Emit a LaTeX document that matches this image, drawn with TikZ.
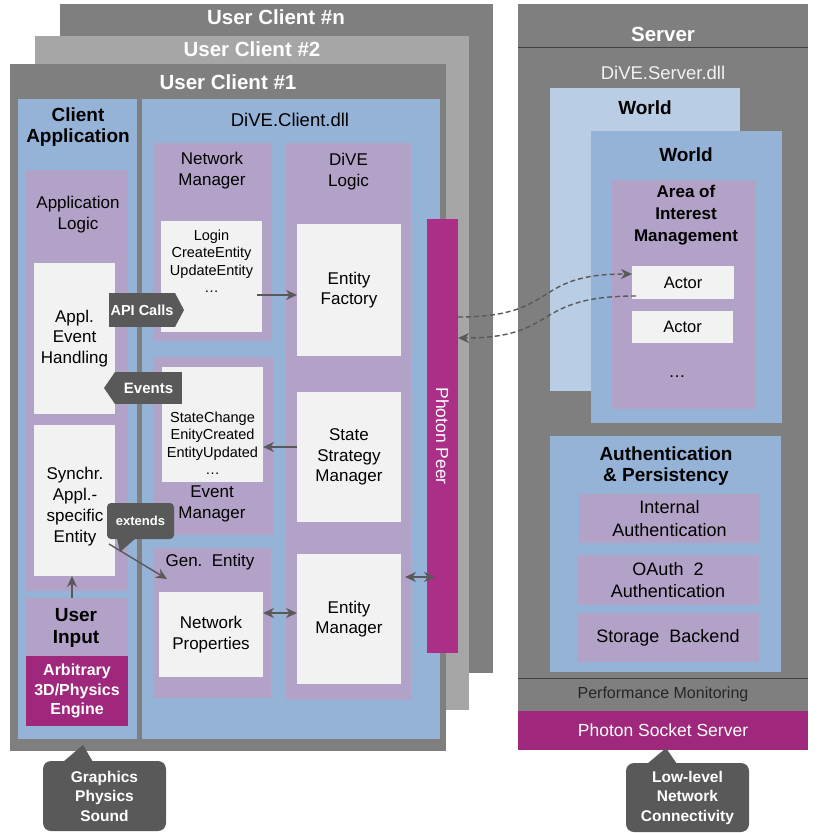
\documentclass[tikz,border=0pt]{standalone}
\usepackage{fontspec}
\setmainfont{Liberation Sans}
\usetikzlibrary{arrows.meta}

\definecolor{grayd}{HTML}{7F7F7F}
\definecolor{grayl}{HTML}{A6A6A6}
\definecolor{blueb}{HTML}{95B3D7}
\definecolor{bluel}{HTML}{B9CDE5}
\definecolor{purp}{HTML}{B3A2C7}
\definecolor{boxwhite}{HTML}{F2F2F2}
\definecolor{peercol}{HTML}{AB2F87}
\definecolor{magd}{HTML}{A0287C}
\definecolor{bubblegray}{HTML}{595959}

\tikzset{
  leaf/.style={fill=boxwhite, inner sep=0pt, outer sep=0pt, align=center, font=\fontsize{17}{20.5}\selectfont},
  pbox/.style={fill=purp, inner sep=0pt, outer sep=0pt, align=center, font=\fontsize{18}{22.5}\selectfont},
  lbl/.style={align=center, font=\fontsize{17}{21}\selectfont},
  blbl/.style={align=center, font=\bfseries\fontsize{19}{21.5}\selectfont},
  title/.style={text=white, font=\bfseries\fontsize{20.5}{24}\selectfont},
  list/.style={align=center, font=\fontsize{14.5}{17.5}\selectfont},
  bubble/.style={fill=bubblegray, text=white, align=center, inner sep=0pt, outer sep=0pt, font=\bfseries\fontsize{15.5}{19.5}\selectfont},
  conn/.style={draw=bubblegray, line width=1.4pt, ->},
  dconn/.style={conn, dash pattern=on 5pt off 3pt},
  >={Stealth[length=11pt,width=10pt,inset=3.5pt]}
}

\begin{document}
\begin{tikzpicture}[x=1pt,y=-1pt]
\useasboundingbox (0,0) rectangle (819,833);

% stacked clients
\fill[grayd] (60,4) rectangle (493,673);
\node[title] (cltn) at (276,17) {User Client \#n};
\fill[grayl] (35,36) rectangle (469,710);
\node[title] (clt2) at (252,49) {User Client \#2};
\fill[grayd] (10,64) rectangle (446,751);
\node[title] (clt1) at (228,82) {User Client \#1};

% client application
\fill[blueb] (18,99) rectangle (137,739);
\node[blbl] (capp) at (78,127) {Client\\Application};
\fill[purp] (26,170) rectangle (128,591);
\node[lbl] (alogic) at (78,215) {Application\\Logic};
\node[leaf, minimum width=81, minimum height=151] (handling) at (74.5,338.5) {Appl.\\Event\\Handling};
\node[leaf, minimum width=81, minimum height=151] (synchr) at (74.5,500.5) {};
\node[lbl] (synchrtxt) at (75,507) {Synchr.\\Appl.-\\specific\\Entity};
\fill[purp] (26,598) rectangle (128,656);
\node[blbl] (uinput) at (76,628) {User\\Input};
\node[fill=magd, minimum width=102, minimum height=70, inner sep=0pt, outer sep=0pt, text=white, align=center,
  font=\bfseries\fontsize{16}{19.5}\selectfont] (engine) at (77,691) {Arbitrary\\3D/Physics\\Engine};

% DiVE.Client.dll
\fill[blueb] (142,99) rectangle (440,739);
\node[lbl, font=\fontsize{18.5}{22}\selectfont] (cdll) at (290,120) {DiVE.Client.dll};

% network manager
\fill[purp] (153,143) rectangle (272,341);
\node[lbl] (netmgr) at (212,171) {Network\\Manager};
\node[leaf, minimum width=101, minimum height=111] (calls) at (211.5,276.5) {};
\node[list] (callstxt) at (211.5,261) {Login\\CreateEntity\\UpdateEntity\\\dots};

% event manager
\fill[purp] (153,357) rectangle (273,535);
\node[leaf, minimum width=101, minimum height=115] (events) at (212.5,424.5) {};
\node[list] (eventstxt) at (212.5,443) {StateChange\\EnityCreated\\EntityUpdated\\\dots};
\node[lbl] (evmgr) at (212,504) {Event\\Manager};

% generic entity
\fill[purp] (153,548) rectangle (271,698);
\node[lbl] (genent) at (210,562) {Gen.~~Entity};
\node[leaf, minimum width=104, minimum height=85] (netprops) at (211,634.5) {Network\\Properties};

% DiVE logic
\fill[purp] (286,143) rectangle (411,700);
\node[lbl] (logic) at (348.5,172) {DiVE\\Logic};
\node[leaf, minimum width=104, minimum height=132] (factory) at (349,290) {Entity\\Factory};
\node[leaf, minimum width=104, minimum height=130] (strategy) at (349,457) {State\\Strategy\\Manager};
\node[leaf, minimum width=104, minimum height=130] (entmgr) at (349,619) {Entity\\Manager};

% photon peer
\node[fill=peercol, minimum width=31, minimum height=434, inner sep=0pt, outer sep=0pt] (peer) at (442.5,436) {};
\node[rotate=-90, text=white, font=\fontsize{17.5}{20}\selectfont] (peertxt) at (442.5,436) {Photon Peer};

% server
\fill[grayd] (518,4) rectangle (808,711);
\node[title] (srv) at (663,34) {Server};
\draw[black!75, line width=1pt] (518,47) -- (808,47);
\node[lbl, text=boxwhite, font=\fontsize{18.5}{22}\selectfont] (sdll) at (663,73) {DiVE.Server.dll};
\fill[bluel] (550,88) rectangle (740,391);
\node[blbl] (world1) at (645,108) {World};
\fill[blueb] (591,131) rectangle (782,423);
\node[blbl] (world2) at (686,155) {World};
\fill[purp] (612,180) rectangle (756,409);
\node[blbl, font=\bfseries\fontsize{17}{22}\selectfont] (aoi) at (686,215) {Area of\\Interest\\Management};
\node[leaf, font=\fontsize{16.5}{20}\selectfont, minimum width=102, minimum height=33] (actor1) at (683,282.5) {Actor};
\node[leaf, font=\fontsize{16.5}{20}\selectfont, minimum width=101, minimum height=32] (actor2) at (682.5,327) {Actor};
\node[lbl] (more) at (677,377) {\dots};

\fill[blueb] (550,436) rectangle (781,672);
\node[blbl] (auth) at (666,466) {Authentication\\\& Persistency};
\node[pbox, minimum width=181, minimum height=49] (intauth) at (669.5,518.5) {Internal\\Authentication};
\node[pbox, minimum width=182, minimum height=50] (oauth) at (668,580) {OAuth~~2\\Authentication};
\node[pbox, minimum width=182, minimum height=49] (storage) at (668,637.5) {Storage~~Backend};

\draw[black!75, line width=1pt] (518,678) -- (808,678);
\node[font=\fontsize{16}{19}\selectfont, text=black!85] (perf) at (663,694) {Performance Monitoring};
\node[fill=magd, minimum width=290, minimum height=39, inner sep=0pt, outer sep=0pt, text=white,
  font=\fontsize{17.5}{20}\selectfont] (socket) at (663,730.5) {Photon Socket Server};

% connections
\coordinate (uin) at (72,598);
\draw[conn] (uin) -- (uin |- synchr.south);
\draw[conn] ([xshift=-5pt,yshift=-18.5pt]calls.east) -- ([yshift=-18.5pt]calls.east -| factory.west);
\draw[conn] ([yshift=10pt]strategy.west) -- ([yshift=10pt]strategy.west -| events.east);
\draw[conn,<->] ([yshift=21.5pt]netprops.east) -- ([yshift=21.5pt]netprops.east -| entmgr.west);
\draw[conn,<->] ([xshift=4pt,yshift=42pt]entmgr.east) -- ([xshift=8pt,yshift=42pt]entmgr.east -| peer.west);
\coordinate (genin) at (167,579);
\draw[conn] ([xshift=-6pt,yshift=-43.5pt]synchr.east) -- (genin);
\draw[dconn] ([yshift=119pt]peer.east) .. controls (560,317) and (530,274) .. ([yshift=8.5pt]actor1.west);
\draw[dconn] ([xshift=4pt,yshift=3pt]actor1.south west) .. controls (530,296) and (560,338) .. ([yshift=98pt]peer.east);

% callouts
\node[bubble, minimum width=66, minimum height=34, font=\bfseries\fontsize{14.5}{17}\selectfont] (apicalls) at (142,310) {API Calls};
\fill[bubblegray] (apicalls.north east) -- (184,310) -- (apicalls.south east) -- cycle;
\node[bubble, minimum width=67, minimum height=32, font=\bfseries\fontsize{15}{17}\selectfont] (evtag) at (148.5,388) {Events};
\fill[bubblegray] (evtag.north west) -- (104,388) -- (evtag.south west) -- cycle;
\node[bubble, rounded corners=4pt, minimum width=67, minimum height=36, font=\bfseries\fontsize{13}{16}\selectfont] (extends) at (140.5,521) {extends};
\fill[bubblegray] ([xshift=10pt,yshift=1pt]extends.south west) -- (120,552) -- ([xshift=29pt,yshift=1pt]extends.south west) -- cycle;
\node[bubble, rounded corners=8pt, minimum width=123, minimum height=70] (gfx) at (104.5,796) {Graphics\\Physics\\Sound};
\fill[bubblegray] ([xshift=20pt,yshift=-1pt]gfx.north west) -- (83,745) -- ([xshift=50pt,yshift=-1pt]gfx.north west) -- cycle;
\node[bubble, rounded corners=8pt, minimum width=123, minimum height=69] (lowlvl) at (687.5,797.5) {Low-level\\Network\\Connectivity};
\fill[bubblegray] ([xshift=21pt,yshift=-1pt]lowlvl.north west) -- (666,748) -- ([xshift=51pt,yshift=-1pt]lowlvl.north west) -- cycle;

\end{tikzpicture}
\end{document}
